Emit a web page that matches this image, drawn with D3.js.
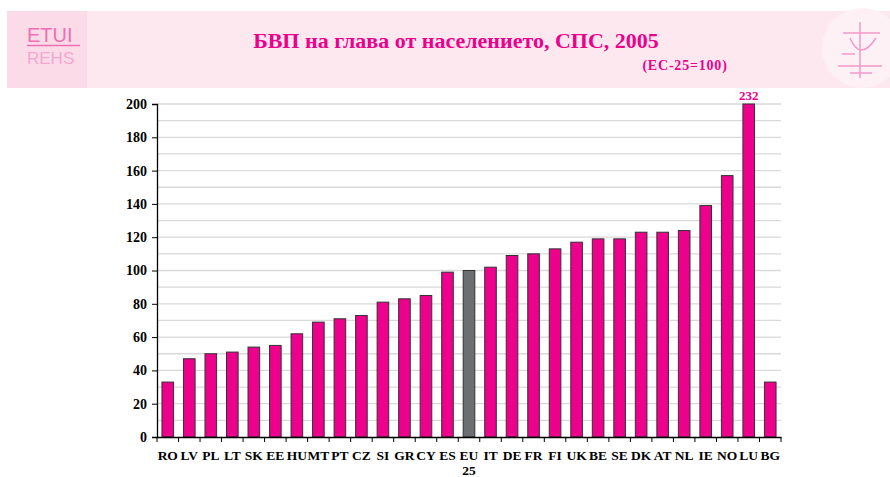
<!DOCTYPE html>
<html><head><meta charset="utf-8">
<script src="https://cdn.jsdelivr.net/npm/d3@7"></script>
<style>body{margin:0;background:#fff}svg{display:block}
.serif{font-family:"Liberation Serif","Tinos","DejaVu Serif","Times New Roman",serif;font-weight:bold}</style>
</head><body>
<svg id="c" width="890" height="477"></svg>
<script>
const categories = ["RO","LV","PL","LT","SK","EE","HU","MT","PT","CZ","SI","GR","CY","ES","EU\n25","IT","DE","FR","FI","UK","BE","SE","DK","AT","NL","IE","NO","LU","BG"];
const values = [33,47,50,51,54,55,62,69,71,73,81,83,85,99,100,102,109,110,113,117,119,119,123,123,124,139,157,232,33];
const yTicks = [0,20,40,60,80,100,120,140,160,180,200];
const title = "БВП на глава от населението, СПС, 2005";
const subtitle = "(ЕС-25=100)";

const svg = d3.select("#c");
const magenta = "#ec008c";

// header band
svg.append("rect").attr("x",7).attr("y",11).attr("width",883).attr("height",77).attr("fill","#fde8f0");
svg.append("rect").attr("x",7).attr("y",11).attr("width",80).attr("height",77).attr("fill","#fbdbe8");
svg.append("circle").attr("cx",862).attr("cy",48).attr("r",40).attr("fill","#fef1f6");
svg.append("text").attr("x",27).attr("y",42).style("font-family","'Liberation Sans',Arial,sans-serif").attr("font-size",20).attr("fill","#ef6fb0").text("ETUI");
svg.append("line").attr("x1",27).attr("x2",80).attr("y1",45.5).attr("y2",45.5).attr("stroke","#ef6fb0").attr("stroke-width",1.5);
svg.append("text").attr("x",27).attr("y",64).style("font-family","'Liberation Sans',Arial,sans-serif").attr("font-size",17).attr("fill","#f5a8cf").text("REHS");
// right logo approximation
const lg = svg.append("g").attr("stroke","#f299c9").attr("fill","none").attr("stroke-width",1.5);
lg.append("line").attr("x1",860).attr("x2",860).attr("y1",22).attr("y2",78);
lg.append("path").attr("d","M850,38 Q860,62 876,38");
lg.append("line").attr("x1",843).attr("x2",880).attr("y1",33).attr("y2",33);
lg.append("line").attr("x1",838).attr("x2",882).attr("y1",66).attr("y2",66);
lg.append("line").attr("x1",842).attr("x2",855).attr("y1",54).attr("y2",54);
lg.append("line").attr("x1",850).attr("x2",872).attr("y1",73).attr("y2",73);

svg.append("text").attr("class","serif").attr("x",456).attr("y",48).attr("text-anchor","middle")
  .attr("font-size",22).attr("fill",magenta).text(title);
svg.append("text").attr("class","serif").attr("x",685).attr("y",70).attr("text-anchor","middle")
  .attr("font-size",14).attr("letter-spacing",0.8).attr("fill",magenta).text(subtitle);

const x0 = 157, x1 = 781, yTop = 104, yBot = 437;
const x = d3.scaleBand().domain(categories).range([x0,x1]).paddingInner(0.46).paddingOuter(0.23);
const y = d3.scaleLinear().domain([0,200]).range([yBot,yTop]);

// gridlines every 10
const grid = d3.range(10,201,10);
svg.append("g").selectAll("line").data(grid).join("line")
  .attr("x1",x0).attr("x2",x1).attr("y1",d=>y(d)).attr("y2",d=>y(d))
  .attr("stroke","#d9d9d9").attr("stroke-width",1.3);

// bars
svg.append("g").selectAll("rect").data(values).join("rect")
  .attr("x",(d,i)=>x(categories[i])).attr("width",x.bandwidth())
  .attr("y",d=>y(Math.min(d,200))).attr("height",d=>yBot-y(Math.min(d,200)))
  .attr("fill",(d,i)=>categories[i].startsWith("EU")?"#6d6e71":magenta)
  .attr("stroke","#333").attr("stroke-width",1);

// value label for clipped bar
values.forEach((v,i)=>{ if(v>200){
  svg.append("text").attr("class","serif").attr("x",x(categories[i])+x.bandwidth()/2).attr("y",yTop-4).attr("text-anchor","middle")
    .attr("font-size",13).attr("fill",magenta).text(v);
}});

// y axis
const ya = svg.append("g").attr("transform",`translate(${x0},0)`)
  .call(d3.axisLeft(y).tickValues(yTicks).tickSize(5).tickPadding(5));
ya.select(".domain").attr("stroke","#000").attr("stroke-width",1.3);
ya.selectAll(".tick line").attr("stroke","#000");
ya.selectAll("text").attr("class","serif").attr("font-size",14).attr("fill","#000");

// x axis
const xa = svg.append("g").attr("transform",`translate(0,${yBot})`)
  .call(d3.axisBottom(x).tickSize(0).tickFormat(""));
xa.select(".domain").attr("stroke","#000").attr("stroke-width",1.3);
svg.append("g").selectAll("line").data(d3.range(categories.length+1)).join("line")
  .attr("x1",i=>x0+i*(x1-x0)/categories.length).attr("x2",i=>x0+i*(x1-x0)/categories.length)
  .attr("y1",yBot).attr("y2",yBot+5).attr("stroke","#000");
const lab = svg.append("g").selectAll("text").data(categories).join("text")
  .attr("class","serif")
  .attr("x",d=>x(d)+x.bandwidth()/2).attr("y",yBot+23).attr("text-anchor","middle")
  .attr("font-size",13.5).attr("fill","#000");
lab.each(function(d){
  const parts = d.split("\n");
  d3.select(this).selectAll("tspan").data(parts).join("tspan")
    .attr("x",x(d)+x.bandwidth()/2).attr("dy",(p,j)=>j?14.5:0).text(p=>p);
});
</script>
</body></html>
